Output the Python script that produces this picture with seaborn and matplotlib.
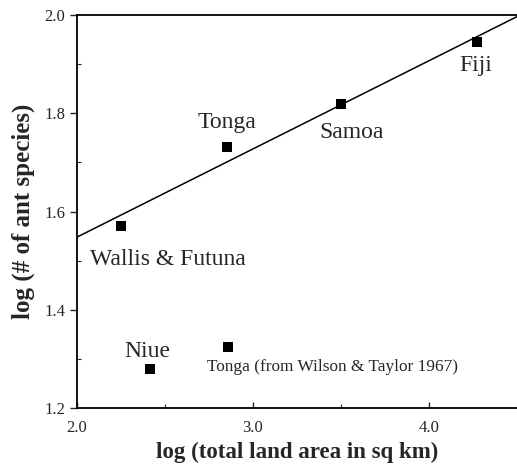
import matplotlib
matplotlib.use("Agg")
import matplotlib.pyplot as plt
import seaborn as sns
import numpy as np
import pandas as pd
from matplotlib.ticker import MultipleLocator

# log land area (sq km) and log ant species count per archipelago
islands = ["Wallis & Futuna", "Tonga", "Samoa", "Fiji"]
log_area = [2.25, 2.85, 3.50, 4.27]
log_species = [1.570, 1.732, 1.819, 1.945]

# points kept out of the fit
outliers = ["Niue", "Tonga (from Wilson & Taylor 1967)"]
out_area = [2.415, 2.86]
out_species = [1.279, 1.324]

# label offsets in pixels from each point
label_offsets = {"Wallis & Futuna": (47, -33), "Tonga": (0, 24),
                 "Samoa": (11, -29), "Fiji": (-1, -23),
                 "Niue": (-3, 18), "Tonga (from Wilson & Taylor 1967)": (-21, -20)}

sns.set_style("ticks")
plt.rcParams['font.family'] = ['Liberation Serif', 'DejaVu Serif']

df = pd.DataFrame({"area": log_area, "species": log_species, "name": islands})
df_out = pd.DataFrame({"area": out_area, "species": out_species, "name": outliers})

fig = plt.figure(figsize=(5.17, 4.65), dpi=100)
ax = fig.add_axes([0.149, 0.1226, 0.851, 0.8451])
ax.set_xlim(2.0, 4.5)
ax.set_ylim(1.2, 2.0)

sns.regplot(data=df, x="area", y="species", ax=ax, scatter=False, ci=None,
            truncate=False, color="black", line_kws={"linewidth": 1.1})
sns.scatterplot(data=pd.concat([df, df_out]), x="area", y="species", ax=ax,
                marker="s", s=55, color="black", edgecolor="black", linewidth=0)

for d in (df, df_out):
    for _, r in d.iterrows():
        dx, dy = label_offsets[r["name"]]
        small = r["name"].startswith("Tonga (")
        ax.annotate(r["name"], (r["area"], r["species"]), xytext=(dx, dy),
                    textcoords="offset pixels", fontsize=12.4 if small else 17,
                    ha="left" if small else "center", va="center")

ax.set_xlim(2.0, 4.5)
ax.set_ylim(1.2, 2.0)
ax.set_xticks([2.0, 3.0, 4.0])
ax.set_yticks([1.2, 1.4, 1.6, 1.8, 2.0])
ax.set_xticklabels(["2.0", "3.0", "4.0"])
ax.set_yticklabels(["1.2", "1.4", "1.6", "1.8", "2.0"])
ax.xaxis.set_minor_locator(MultipleLocator(0.5))
ax.yaxis.set_minor_locator(MultipleLocator(0.1))
ax.tick_params(axis="y", which="major", direction="out", length=5, width=1, labelsize=12)
ax.tick_params(axis="x", which="major", direction="in", length=4, width=1, labelsize=12, pad=9)
ax.tick_params(which="minor", direction="in", length=3, width=0.8)

for side in ("left", "bottom", "top"):
    ax.spines[side].set_linewidth(1.3)
    ax.spines[side].set_color("black")
ax.spines["right"].set_visible(False)

ax.set_xlabel("log (total land area in sq km)", fontsize=16.5, fontweight="bold", labelpad=4)
ax.set_ylabel("log (# of ant species)", fontsize=18, fontweight="bold", labelpad=7)

fig.savefig("out.png", dpi=100)
